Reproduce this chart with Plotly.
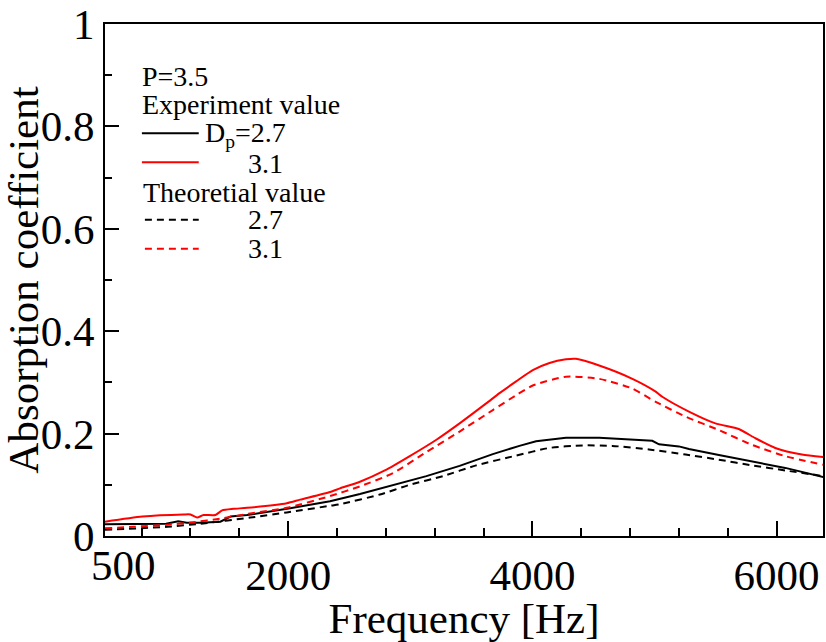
import plotly.graph_objects as go

# ---------------- data ----------------
freq_exp_31 = [500, 806, 1143, 1200, 1255, 1306, 1404, 1459, 1551, 1663, 1989, 2098, 2343, 2424,
               2588, 2792, 2996, 3214, 3404, 3622, 3731, 3867, 4003, 4140, 4275, 4357, 4547, 4819,
               5010, 5064, 5282, 5499, 5690, 5826, 5989, 6207, 6384]
abs_exp_31 = [0.028, 0.038, 0.042, 0.042, 0.036, 0.041, 0.041, 0.050, 0.053, 0.055, 0.064, 0.071,
              0.086, 0.093, 0.106, 0.128, 0.156, 0.188, 0.220, 0.259, 0.279, 0.302, 0.324, 0.338,
              0.345, 0.346, 0.333, 0.307, 0.282, 0.272, 0.243, 0.220, 0.209, 0.191, 0.172, 0.159,
              0.154]

freq_exp_27 = [500, 1000, 1100, 1170, 1280, 1445, 1527, 1663, 2016, 2343, 2588, 2860, 3132, 3404,
               3676, 3894, 4030, 4275, 4547, 4982, 5037, 5200, 5282, 5527, 5798, 6071, 6384]
abs_exp_27 = [0.023, 0.024, 0.029, 0.026, 0.026, 0.028, 0.038, 0.041, 0.054, 0.068, 0.082, 0.099,
              0.117, 0.137, 0.160, 0.176, 0.185, 0.192, 0.192, 0.186, 0.179, 0.175, 0.170, 0.158,
              0.145, 0.133, 0.115]

freq_th_31 = [500, 735, 1010, 1225, 1445, 1690, 1989, 2343, 2588, 2860, 3132, 3404, 3676, 3867,
              4003, 4275, 4547, 4819, 5010, 5255, 5527, 5798, 6071, 6384]
abs_th_31 = [0.015, 0.018, 0.022, 0.027, 0.034, 0.044, 0.055, 0.078, 0.097, 0.123, 0.164, 0.204,
             0.246, 0.275, 0.294, 0.311, 0.307, 0.288, 0.262, 0.233, 0.207, 0.178, 0.156, 0.139]

freq_th_27 = [500, 1010, 1282, 1690, 1989, 2343, 2424, 2751, 2996, 3268, 3540, 3867, 4139, 4411,
              4655, 4955, 5255, 5527, 5798, 6071, 6384]
abs_th_27 = [0.012, 0.018, 0.024, 0.036, 0.046, 0.059, 0.062, 0.081, 0.100, 0.117, 0.138, 0.157,
             0.172, 0.177, 0.176, 0.169, 0.159, 0.149, 0.138, 0.128, 0.117]

x_tickvals = [2000, 4000, 6000]
x_ticktext = ["2000", "4000", "6000"]
x_first_label = "500"
y_tickvals = [0, 0.2, 0.4, 0.6, 0.8, 1.0]
y_ticktext = ["0", "0.2", "0.4", "0.6", "0.8", "1"]

legend_header = ["P=3.5", "Experiment value", "Theoretial value"]
legend_names = ["D<sub>p</sub>=2.7", "3.1", "2.7", "3.1"]

# ---------------- style ----------------
FONT = "Liberation Serif"
RED = "#ff0000"
BLACK = "#000000"
DASH = "7px,5px"

W, H = 826, 642
L, R, T, B = 105, 1, 23, 104
PW, PH = W - L - R, H - T - B


def px2paper_x(px):
    return (px - L) / PW


def px2paper_y(py):
    return (H - B - py) / PH


fig = go.Figure()
series = [
    (freq_exp_27, abs_exp_27, BLACK, "solid", "linear"),
    (freq_exp_31, abs_exp_31, RED, "solid", "spline"),
    (freq_th_27, abs_th_27, BLACK, DASH, "spline"),
    (freq_th_31, abs_th_31, RED, DASH, "spline"),
]
for fx, fy, col, dash, shape in series:
    fig.add_trace(go.Scatter(x=fx, y=fy, mode="lines",
                             line=dict(color=col, width=2, dash=dash, shape=shape, smoothing=0.6),
                             showlegend=False, hoverinfo="skip"))

# ---------------- custom legend ----------------
annotations = []
shapes = []


def add_text(text, px, baseline):
    annotations.append(dict(text=text, xref="paper", yref="paper",
                            x=px2paper_x(px), y=px2paper_y(baseline - 9),
                            xanchor="left", yanchor="middle", showarrow=False,
                            font=dict(family=FONT, size=28, color="black")))


def add_line(x0, x1, py, col, dash):
    shapes.append(dict(type="line", xref="paper", yref="paper",
                       x0=px2paper_x(x0), x1=px2paper_x(x1),
                       y0=px2paper_y(py), y1=px2paper_y(py),
                       line=dict(color=col, width=2, dash=dash)))


add_text(legend_header[0], 140, 85)
add_text(legend_header[1], 140, 113)
add_line(142, 199, 133, BLACK, "solid")
add_text(legend_names[0], 203, 143)
add_line(142, 199, 162, RED, "solid")
add_text(legend_names[1], 246, 172)
add_text(legend_header[2], 141, 201)
add_line(145, 199, 220, BLACK, DASH)
add_text(legend_names[2], 246, 229)
add_line(145, 199, 249, RED, DASH)
add_text(legend_names[3], 246, 258)

# first x label, drawn slightly right of the axis start as in the reference
annotations.append(dict(text=x_first_label, xref="x", yref="paper", x=500, y=0,
                        xanchor="center", yanchor="top", xshift=18, yshift=-4,
                        showarrow=False, font=dict(family=FONT, size=43, color="black")))

fig.update_layout(
    width=W, height=H,
    margin=dict(l=L, r=R, t=T, b=B, pad=0),
    paper_bgcolor="white", plot_bgcolor="white",
    font=dict(family=FONT, size=43, color="black"),
    annotations=annotations, shapes=shapes,
    showlegend=False,
)

fig.update_xaxes(
    range=[500, 6380], showgrid=False, zeroline=False,
    showline=True, linecolor="black", linewidth=2, mirror=True,
    ticks="inside", ticklen=15, tickwidth=2, tickcolor="black",
    tickvals=x_tickvals, ticktext=x_ticktext,
    tickfont=dict(family=FONT, size=43, color="black"),
    minor=dict(tick0=0, dtick=400, ticks="inside", ticklen=8, tickwidth=2, tickcolor="black"),
    title=dict(text="Frequency [Hz]", font=dict(family=FONT, size=43, color="black"), standoff=12),
)
fig.update_yaxes(
    range=[0, 1], showgrid=False, zeroline=False,
    showline=True, linecolor="black", linewidth=2, mirror=True,
    ticks="inside", ticklen=14, tickwidth=2, tickcolor="black",
    tickvals=y_tickvals, ticktext=y_ticktext,
    tickfont=dict(family=FONT, size=43, color="black"),
    minor=dict(tick0=0, dtick=0.1, ticks="inside", ticklen=7, tickwidth=2, tickcolor="black"),
    title=dict(text="Absorption coefficient", font=dict(family=FONT, size=43, color="black"), standoff=4),
)

fig.write_html("out.html")
